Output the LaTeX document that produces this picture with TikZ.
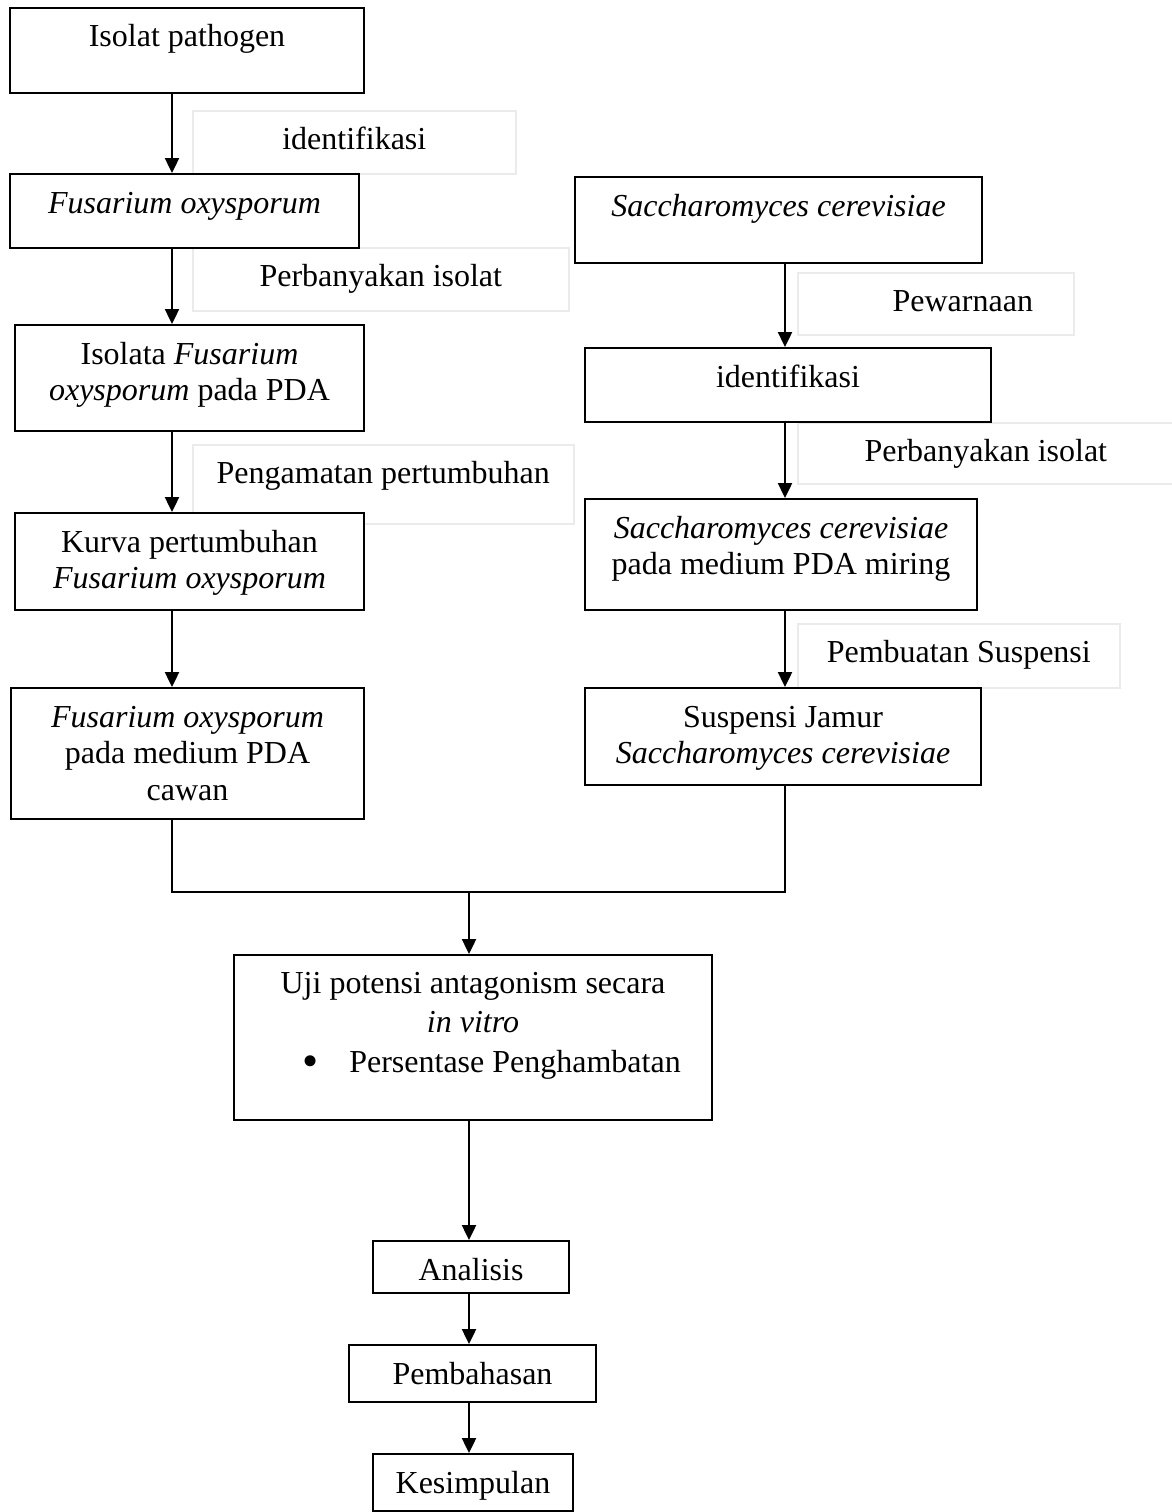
\documentclass[tikz,border=0pt]{standalone}
\usepackage{fontspec}
\setmainfont{Liberation Serif}
\usepackage{xcolor}
\usepackage{tikz}
\usetikzlibrary{arrows.meta}
\definecolor{flline}{HTML}{000000}
\definecolor{flnote}{HTML}{EBEBEB}

\begin{document}
\begin{tikzpicture}[x=1pt, y=-1pt,
    stage/.style={rectangle, draw=flline, line width=2pt, fill=white, anchor=north west, align=flush center,
        inner sep=0pt, text height=39pt, font=\fontsize{32}{36.5}\selectfont},
    note/.style={stage, draw=flnote, line width=1.6pt},
    flow/.style={draw=flline, line width=2.4pt, -{Triangle[length=15pt, width=14pt]}},
    merge/.style={draw=flline, line width=2.4pt},
]
\useasboundingbox (0,0) rectangle (1171,1512);

% arrow columns
\coordinate (lcol) at (172,0);
\coordinate (rcol) at (785,0);
\coordinate (mcol) at (469,0);
\coordinate (meet) at (469,892);

% step labels beside the arrows
\node[note, text width=323pt, text depth=24pt] (identL) at (192,110) {identifikasi};
\node[note, text width=376pt, text depth=24pt] (perbL) at (192,247) {Perbanyakan isolat};
\node[note, text width=381pt, text depth=40pt] (amat) at (192,444) {Pengamatan pertumbuhan};
\node[note, text width=276pt, text depth=23pt] (warna) at (797,272) {\hspace*{54pt}Pewarnaan};
\node[note, text width=376pt, text depth=22pt] (perbR) at (797,422) {Perbanyakan isolat};
\node[note, text width=322pt, text depth=25pt] (buat) at (797,623) {Pembuatan Suspensi};

% Fusarium column
\node[stage, text width=354pt, text depth=46pt] (isolat) at (9,7) {Isolat pathogen};
\node[stage, text width=349pt, text depth=35pt] (fusarium) at (9,173) {\textit{Fusarium oxysporum}};
\node[stage, text width=349pt, text depth=67pt] (isolata) at (14,324) {Isolata \textit{Fusarium}\\\textit{oxysporum} pada PDA};
\node[stage, text width=349pt, text depth=58pt] (kurva) at (14,512) {Kurva pertumbuhan\\\textit{Fusarium oxysporum}};
\node[stage, text width=353pt, text depth=92pt] (cawan) at (10,687) {\textit{Fusarium oxysporum}\\pada medium PDA\\cawan};

% Saccharomyces column
\node[stage, text width=407pt, text depth=47pt] (sacchar) at (574,176) {\textit{Saccharomyces cerevisiae}};
\node[stage, text width=406pt, text depth=35pt] (identR) at (584,347) {identifikasi};
\node[stage, text width=392pt, text depth=72pt] (miring) at (584,498) {\textit{Saccharomyces cerevisiae}\\pada medium PDA miring};
\node[stage, text width=396pt, text depth=58pt] (suspensi) at (584,687) {Suspensi Jamur\\\textit{Saccharomyces cerevisiae}};

% joint part
\node[stage, text width=478pt, text height=38pt, text depth=127pt, font=\fontsize{32}{39.5}\selectfont] (uji) at (233,954)
    {Uji potensi antagonism secara\\\textit{in vitro}\\\hspace*{37pt}\raisebox{-4pt}{\fontsize{46}{46}\selectfont\textbullet}\hspace*{31pt}Persentase Penghambatan};
\node[stage, text width=196pt, text depth=13pt] (analisis) at (372,1240) {Analisis};
\node[stage, text width=247pt, text depth=18pt] (bahas) at (348,1344) {Pembahasan};
\node[stage, text width=200pt, text depth=18pt] (simpul) at (372,1453) {Kesimpulan};

\draw[flow] (isolat.south -| lcol) -- (fusarium.north -| lcol);
\draw[flow] (fusarium.south -| lcol) -- (isolata.north -| lcol);
\draw[flow] (isolata.south -| lcol) -- (kurva.north -| lcol);
\draw[flow] (kurva.south -| lcol) -- (cawan.north -| lcol);

\draw[flow] (sacchar.south -| rcol) -- (identR.north -| rcol);
\draw[flow] (identR.south -| rcol) -- (miring.north -| rcol);
\draw[flow] (miring.south -| rcol) -- (suspensi.north -| rcol);

\draw[merge] (cawan.south -| lcol) |- (meet) -| (suspensi.south -| rcol);
\draw[flow] (meet) -- (uji.north -| meet);

\draw[flow] (uji.south -| mcol) -- (analisis.north -| mcol);
\draw[flow] (analisis.south -| mcol) -- (bahas.north -| mcol);
\draw[flow] (bahas.south -| mcol) -- (simpul.north -| mcol);
\end{tikzpicture}
\end{document}
